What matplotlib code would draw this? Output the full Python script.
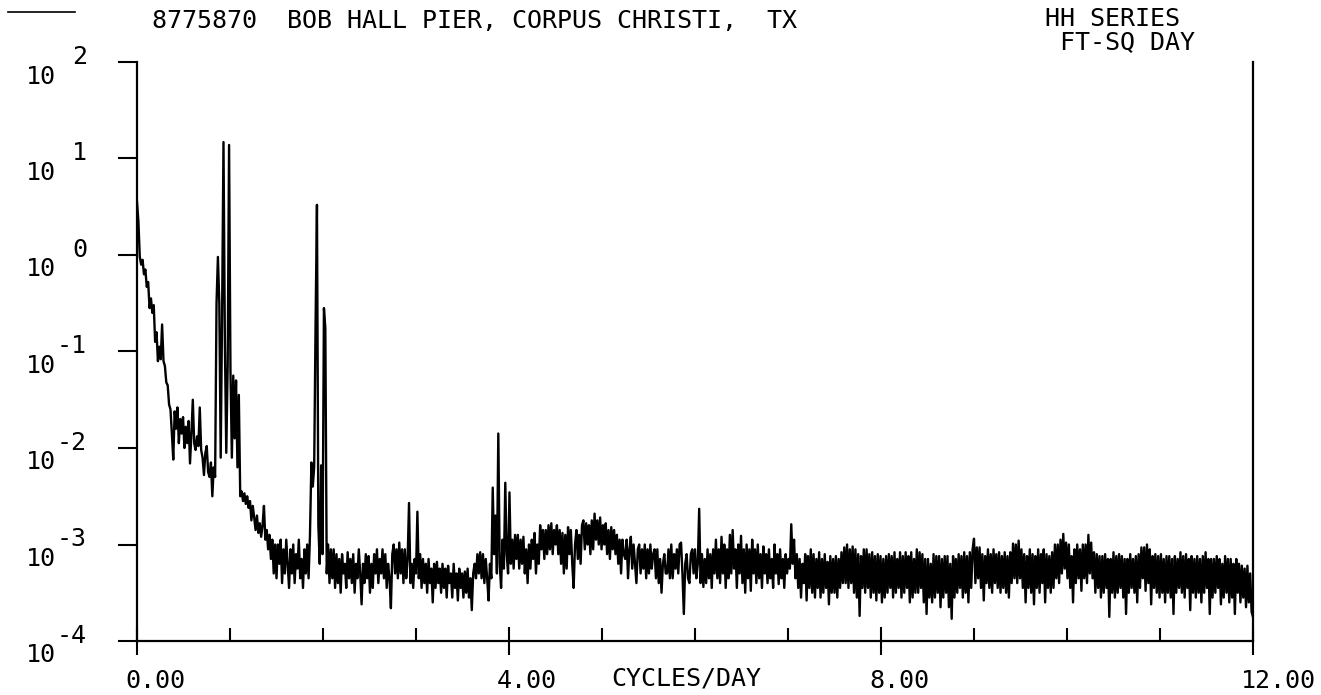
import numpy as np
import matplotlib
matplotlib.use('Agg')
import matplotlib.pyplot as plt
from matplotlib import transforms
from matplotlib.lines import Line2D
from matplotlib.ticker import NullLocator

# spectral estimates every 0.015 cycles/day as log10(ft^2 day)
freq_step = 0.015
log_power = [
    # 0.000 - 0.285
    0.55, 0.35, -0.02, -0.10, -0.05, -0.20, -0.15, -0.33, -0.28, -0.55,
    -0.45, -0.60, -0.52, -0.90, -0.80, -1.10, -0.95, -1.08, -0.72, -1.10,
    # 0.300 - 0.585
    -1.15, -1.32, -1.35, -1.55, -1.60, -1.85, -2.12, -1.62, -1.80, -1.58,
    -1.95, -1.70, -1.85, -1.68, -2.00, -1.78, -1.95, -1.72, -2.16, -1.85,
    # 0.600 - 0.885
    -1.50, -1.95, -2.02, -1.88, -1.98, -1.58, -2.02, -2.10, -2.28, -2.05,
    -1.98, -2.25, -2.30, -2.15, -2.50, -2.20, -2.30, -0.50, -0.02, -0.50,
    # 0.900 - 1.185 (O1, K1)
    -2.10, -0.60, 1.17, -0.92, -2.05, -1.15, 1.14, -1.20, -2.10, -1.25,
    -1.90, -1.30, -2.20, -1.45, -2.50, -2.45, -2.55, -2.47, -2.58, -2.50,
    # 1.200 - 1.485
    -2.62, -2.55, -2.75, -2.60, -2.72, -2.85, -2.70, -2.88, -2.78, -2.92,
    -2.80, -2.60, -2.95, -2.85, -3.05, -2.90, -3.15, -2.95, -3.30, -3.00,
    # 1.500 - 1.785
    -3.35, -3.00, -3.20, -2.95, -3.40, -3.05, -3.30, -2.95, -3.20, -3.45,
    -3.05, -3.30, -3.00, -3.40, -3.10, -3.25, -2.95, -3.35, -3.15, -3.45,
    # 1.800 - 2.085 (M2, S2)
    -3.05, -3.30, -3.00, -3.35, -2.90, -2.15, -2.40, -2.20, -0.73, 0.52,
    -2.80, -3.20, -2.18, -3.10, -0.55, -0.76, -3.30, -3.00, -3.40, -3.05,
    # 2.100 - 2.385
    -3.35, -3.05, -3.45, -3.10, -3.40, -3.15, -3.50, -3.10, -3.30, -3.20,
    -3.45, -3.08, -3.35, -3.15, -3.40, -3.10, -3.50, -3.20, -3.35, -3.05,
    # 2.400 - 2.685
    -3.30, -3.62, -3.20, -3.40, -3.10, -3.35, -3.12, -3.50, -3.20, -3.45,
    -3.10, -3.30, -3.05, -3.40, -3.15, -3.30, -3.05, -3.35, -3.10, -3.45,
    # 2.700 - 2.985
    -3.20, -3.35, -3.66, -3.10, -3.00, -3.30, -3.05, -3.35, -2.98, -3.30,
    -3.05, -3.40, -3.05, -3.35, -3.15, -2.57, -3.40, -3.20, -3.45, -3.15,
    # 3.000 - 3.285
    -3.30, -2.66, -3.35, -3.10, -3.45, -3.15, -3.40, -3.20, -3.50, -3.15,
    -3.40, -3.25, -3.60, -3.20, -3.45, -3.18, -3.40, -3.25, -3.50, -3.20,
    # 3.300 - 3.585
    -3.45, -3.25, -3.55, -3.22, -3.40, -3.30, -3.55, -3.20, -3.45, -3.30,
    -3.58, -3.25, -3.45, -3.30, -3.55, -3.28, -3.50, -3.25, -3.55, -3.35,
    # 3.600 - 3.885 (M4)
    -3.68, -3.30, -3.20, -3.35, -3.10, -3.30, -3.08, -3.35, -3.10, -3.40,
    -3.15, -3.35, -3.58, -3.20, -3.35, -2.41, -3.10, -2.70, -3.30, -1.85,
    # 3.900 - 4.185
    -3.20, -3.45, -2.95, -3.25, -2.36, -3.10, -3.30, -2.46, -3.20, -2.95,
    -3.25, -2.90, -3.15, -2.90, -3.25, -2.95, -3.20, -2.92, -3.30, -3.05,
    # 4.200 - 4.485
    -3.40, -3.00, -3.25, -2.95, -3.15, -2.88, -3.30, -3.00, -3.20, -2.80,
    -3.05, -2.85, -3.15, -2.85, -3.10, -2.80, -3.05, -2.78, -3.10, -2.85,
    # 4.500 - 4.785
    -3.00, -2.80, -3.10, -2.85, -3.20, -2.88, -3.30, -2.90, -3.25, -2.82,
    -3.10, -2.85, -3.20, -3.45, -3.00, -2.85, -3.15, -2.90, -3.20, -2.80,
    # 4.800 - 5.085
    -2.75, -3.05, -2.78, -3.00, -2.80, -3.10, -2.75, -3.05, -2.68, -2.95,
    -2.75, -3.00, -2.72, -3.05, -2.80, -3.00, -2.78, -3.10, -2.85, -3.15,
    # 5.100 - 5.385
    -2.82, -3.05, -2.85, -3.10, -2.90, -3.20, -2.95, -3.30, -2.95, -3.10,
    -3.15, -2.95, -3.35, -3.05, -2.92, -3.25, -3.00, -3.20, -3.40, -3.05,
    # 5.400 - 5.685
    -3.00, -3.30, -3.05, -3.25, -3.00, -3.35, -3.05, -3.30, -3.00, -3.25,
    -3.10, -3.05, -3.35, -3.05, -3.40, -3.15, -3.50, -3.20, -3.10, -3.30,
    # 5.700 - 5.985
    -3.30, -3.05, -3.35, -3.00, -3.35, -3.10, -3.25, -3.05, -3.30, -3.00,
    -2.98, -3.30, -3.72, -3.20, -3.10, -3.35, -3.40, -3.10, -3.05, -3.30,
    # 6.000 - 6.285
    -3.05, -3.35, -3.20, -2.63, -3.40, -3.10, -3.44, -3.15, -3.40, -3.05,
    -3.35, -3.10, -3.45, -3.05, -3.30, -2.95, -3.35, -3.05, -3.40, -2.92,
    # 6.300 - 6.585
    -3.30, -3.00, -3.45, -3.05, -3.35, -2.90, -3.30, -2.85, -3.25, -3.05,
    -3.45, -3.00, -3.30, -2.91, -3.40, -3.05, -3.50, -3.00, -3.35, -3.05,
    # 6.600 - 6.885
    -3.48, -2.95, -3.30, -3.05, -3.40, -3.00, -3.35, -3.10, -3.45, -3.02,
    -3.30, -3.10, -3.40, -3.05, -3.35, -3.15, -3.45, -3.00, -3.30, -3.10,
    # 6.900 - 7.185
    -3.41, -3.05, -3.35, -3.15, -3.45, -3.10, -3.30, -3.15, -3.25, -2.79,
    -3.20, -2.95, -3.35, -3.10, -3.45, -3.15, -3.55, -3.20, -3.40, -3.10,
    # 7.200 - 7.485
    -3.58, -3.12, -3.45, -3.05, -3.50, -3.10, -3.55, -3.15, -3.45, -3.08,
    -3.55, -3.15, -3.50, -3.10, -3.45, -3.18, -3.62, -3.12, -3.50, -3.15,
    # 7.500 - 7.785
    -3.50, -3.12, -3.55, -3.15, -3.45, -3.08, -3.40, -3.03, -3.40, -3.00,
    -3.45, -3.05, -3.40, -3.02, -3.50, -3.05, -3.55, -3.10, -3.74, -3.12,
    # 7.800 - 8.085
    -3.45, -3.05, -3.50, -3.05, -3.45, -3.10, -3.55, -3.08, -3.50, -3.12,
    -3.58, -3.10, -3.50, -3.12, -3.60, -3.15, -3.55, -3.12, -3.50, -3.10,
    # 8.100 - 8.385
    -3.45, -3.12, -3.55, -3.08, -3.50, -3.15, -3.45, -3.08, -3.55, -3.12,
    -3.50, -3.08, -3.45, -3.12, -3.60, -3.08, -3.55, -3.15, -3.50, -3.05,
    # 8.400 - 8.685
    -3.50, -3.08, -3.45, -3.10, -3.60, -3.15, -3.72, -3.15, -3.55, -3.20,
    -3.60, -3.10, -3.55, -3.12, -3.50, -3.12, -3.65, -3.15, -3.55, -3.12,
    # 8.700 - 8.985
    -3.50, -3.12, -3.65, -3.20, -3.77, -3.12, -3.55, -3.15, -3.50, -3.10,
    -3.45, -3.12, -3.55, -3.08, -3.50, -3.12, -3.60, -3.08, -3.45, -3.05,
    # 9.000 - 9.285
    -2.94, -3.40, -3.03, -3.35, -3.03, -3.45, -3.10, -3.58, -3.12, -3.40,
    -3.05, -3.45, -3.10, -3.50, -3.05, -3.40, -3.10, -3.45, -3.08, -3.50,
    # 9.300 - 9.585
    -3.12, -3.45, -3.08, -3.50, -3.12, -3.55, -3.08, -3.40, -2.99, -3.35,
    -3.00, -3.40, -2.96, -3.35, -3.05, -3.45, -3.10, -3.60, -3.12, -3.45,
    # 9.600 - 9.885
    -3.05, -3.50, -3.10, -3.62, -3.12, -3.45, -3.05, -3.50, -3.10, -3.40,
    -3.05, -3.60, -3.10, -3.45, -3.12, -3.50, -3.08, -3.45, -3.00, -3.35,
    # 9.900 - 10.185
    -3.00, -3.40, -2.95, -3.30, -2.89, -3.25, -2.98, -3.35, -3.00, -3.45,
    -3.12, -3.60, -3.05, -3.40, -3.00, -3.35, -3.05, -3.48, -3.00, -3.35,
    # 10.200 - 10.485
    -3.00, -3.40, -2.90, -3.30, -2.98, -3.35, -3.08, -3.50, -3.10, -3.45,
    -3.12, -3.55, -3.12, -3.50, -3.10, -3.45, -3.15, -3.75, -3.15, -3.50,
    # 10.500 - 10.785
    -3.08, -3.55, -3.12, -3.50, -3.10, -3.45, -3.12, -3.55, -3.15, -3.72,
    -3.15, -3.50, -3.10, -3.45, -3.15, -3.50, -3.12, -3.60, -3.10, -3.45,
    # 10.800 - 11.085
    -3.03, -3.35, -3.03, -3.48, -3.00, -3.40, -3.05, -3.62, -3.12, -3.45,
    -3.10, -3.50, -3.12, -3.55, -3.10, -3.50, -3.15, -3.60, -3.12, -3.50,
    # 11.100 - 11.385
    -3.12, -3.55, -3.15, -3.72, -3.12, -3.50, -3.15, -3.45, -3.08, -3.50,
    -3.12, -3.55, -3.10, -3.45, -3.15, -3.68, -3.12, -3.50, -3.15, -3.55,
    # 11.400 - 11.685
    -3.12, -3.50, -3.15, -3.60, -3.12, -3.50, -3.08, -3.45, -3.15, -3.72,
    -3.15, -3.55, -3.15, -3.50, -3.12, -3.45, -3.15, -3.62, -3.20, -3.55,
    # 11.700 - 11.985
    -3.12, -3.50, -3.15, -3.60, -3.15, -3.55, -3.20, -3.72, -3.15, -3.50,
    -3.20, -3.60, -3.22, -3.55, -3.25, -3.65, -3.22, -3.60, -3.30, -3.70,
    # 12.000
    -3.75,
]

station_title = '8775870  BOB HALL PIER, CORPUS CHRISTI,  TX'
series_lines = ['HH SERIES', ' FT-SQ DAY']
x_label = 'CYCLES/DAY'
x_major = [0, 4, 8, 12]
x_major_labels = ['0.00', '4.00', '8.00', '12.00']
x_minor = [1, 2, 3, 5, 6, 7, 9, 10, 11]
y_exponents = [-4, -3, -2, -1, 0, 1, 2]


def main():
    plt.rcParams['font.family'] = 'DejaVu Sans Mono'
    plt.rcParams['font.size'] = 18

    W, H = 1321, 695
    fig = plt.figure(figsize=(W / 100, H / 100), dpi=100)
    ax = fig.add_axes([137 / W, 1 - 641 / H, 1116 / W, 579 / H])

    freq = np.arange(len(log_power)) * freq_step
    power = 10.0 ** np.array(log_power)
    ax.semilogy(freq, power, color='black', lw=1.7)

    ax.set_xlim(0, 12)
    ax.set_ylim(1e-4, 1e2)
    ax.spines['top'].set_visible(False)
    for side in ['left', 'right', 'bottom']:
        ax.spines[side].set_linewidth(1.6)

    ax.set_xticks(x_major, x_major_labels)
    ax.set_xticks(x_minor, minor=True)
    ax.set_yticks([10.0 ** e for e in y_exponents], ['10'] * len(y_exponents))
    ax.yaxis.set_minor_locator(NullLocator())

    ax.tick_params(axis='x', which='major', direction='inout', length=20, width=1.5, pad=10)
    ax.tick_params(axis='x', which='minor', direction='in', length=9.5, width=1.5)
    ax.tick_params(axis='y', which='major', direction='out', length=13.7, width=1.5, pad=45)

    # plotter-style placement: x labels start just left of the tick, "10" sits below its tick
    dx = transforms.ScaledTranslation(-12 / 100, 0, fig.dpi_scale_trans)
    for lab in ax.get_xticklabels():
        lab.set_ha('left')
        lab.set_transform(lab.get_transform() + dx)
    dy = transforms.ScaledTranslation(0, -12 / 100, fig.dpi_scale_trans)
    for lab in ax.get_yticklabels():
        lab.set_transform(lab.get_transform() + dy)

    for e in y_exponents:
        ax.annotate(str(e), xy=(0, 10.0 ** e), xycoords=('axes fraction', 'data'),
                    xytext=(-36, 3.6), textcoords='offset points', ha='right', va='center')

    ax.set_xlabel(x_label)
    ax.xaxis.set_label_coords(0.492, (641 - 678) / 579)
    ax.xaxis.label.set_va('center')

    fig.add_artist(Line2D([8 / W, 75 / W], [1 - 12 / H] * 2, color='black', lw=1.2))
    fig.text(474 / W, 1 - 21 / H, station_title, ha='center', va='center')
    fig.text(1120 / W, 1 - 31 / H, '\n'.join(series_lines), ha='center', va='center',
             multialignment='left', linespacing=0.95)

    fig.savefig('out.png', dpi=100)


if __name__ == '__main__':
    main()
